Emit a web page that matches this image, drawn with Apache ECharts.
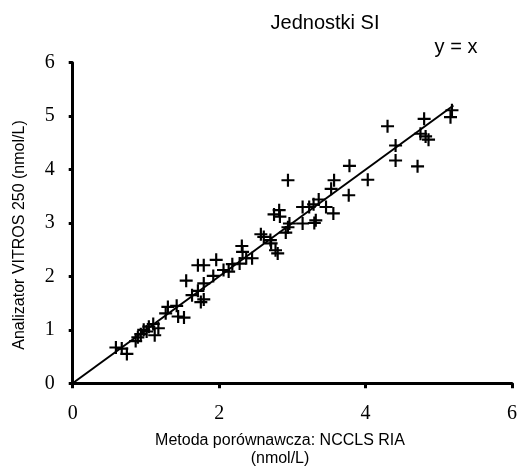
<!DOCTYPE html>
<html>
<head>
<meta charset="utf-8">
<script src="https://cdn.jsdelivr.net/npm/echarts@6/dist/echarts.min.js"></script>
<style>
  html, body { margin: 0; padding: 0; background: #fff; }
  #chart { width: 520px; height: 472px; }
</style>
</head>
<body>
<div id="chart"></div>
<script>
// porównanie metod: NCCLS RIA (x) vs VITROS 250 (y)
const ria = [
  0.59, 0.67, 0.74, 0.86, 0.89, 0.93, 0.97, 1.01, 1.04, 1.10,
  1.12, 1.17, 1.27, 1.30, 1.42, 1.44, 1.52, 1.55, 1.63, 1.71,
  1.75, 1.79, 1.79, 1.71, 1.79, 1.96, 1.92, 2.06, 2.13, 2.18,
  2.28, 2.31, 2.32, 2.37, 2.45, 2.57, 2.61, 2.70, 2.71, 2.77,
  2.80, 2.75, 2.82, 2.83, 2.94, 2.91, 2.94, 2.96, 3.14, 3.14,
  3.23, 3.29, 3.32, 3.36, 3.46, 3.53, 3.57, 3.56, 3.78, 3.77,
  4.03, 4.30, 4.41, 4.41, 4.71, 4.80, 4.75, 4.82, 4.86, 5.18,
  5.16, 3.30
];
const vitros = [
  0.67, 0.65, 0.55, 0.79, 0.86, 0.92, 1.00, 0.97, 1.06, 1.11,
  0.90, 1.03, 1.31, 1.43, 1.45, 1.25, 1.23, 1.92, 1.65, 1.73,
  1.52, 1.57, 1.87, 2.21, 2.21, 2.31, 2.01, 2.12, 2.09, 2.23,
  2.24, 2.57, 2.46, 2.34, 2.34, 2.79, 2.74, 2.68, 2.62, 2.49,
  2.43, 3.16, 3.24, 3.12, 3.80, 2.82, 2.92, 2.99, 3.30, 2.99,
  3.30, 3.35, 3.05, 3.44, 3.30, 3.64, 3.80, 3.18, 4.07, 3.52,
  3.81, 4.81, 4.45, 4.17, 4.06, 4.95, 4.67, 4.62, 4.56, 5.11,
  4.98, 3.00
];
const lineEnds = [0, 5.2];
const ticksX = [0, 2, 4, 6];

const chart = echarts.init(document.getElementById("chart"));

const plus = "path://M5,0h2v5h5v2h-5v5h-2v-5h-5v-2h5z";

const option = {
  backgroundColor: "#fff",
  animation: false,
  grid: { left: 72.7, right: 7, top: 62.7, bottom: 88.7 },
  xAxis: {
    type: "value",
    min: 0,
    max: 6,
    interval: 2,
    axisLine: { lineStyle: { color: "#000", width: 3 } },
    axisTick: { show: true, length: 5, lineStyle: { color: "#000", width: 3 } },
    axisLabel: {
      color: "#000",
      fontFamily: "Liberation Serif",
      fontSize: 20,
      margin: 20,
      formatter: (v) => (ticksX.indexOf(v) >= 0 ? String(v) : "")
    },
    splitLine: { show: false }
  },
  yAxis: {
    type: "value",
    min: 0,
    max: 6,
    interval: 1,
    axisLine: { show: true, lineStyle: { color: "#000", width: 3 } },
    axisTick: { show: true, length: 4, lineStyle: { color: "#000", width: 3 } },
    axisLabel: {
      color: "#000",
      fontFamily: "Liberation Serif",
      fontSize: 20,
      margin: 18
    },
    splitLine: { show: false }
  },
  graphic: [
    {
      type: "text", x: 325, y: 23,
      style: { text: "Jednostki SI", fill: "#000", font: "20px 'Liberation Sans'", align: "center", verticalAlign: "middle" }
    },
    {
      type: "text", x: 456, y: 47,
      style: { text: "y = x", fill: "#000", font: "20px 'Liberation Sans'", align: "center", verticalAlign: "middle" }
    },
    {
      type: "text", x: 280, y: 441,
      style: { text: "Metoda porównawcza: NCCLS RIA", fill: "#000", font: "16px 'Liberation Sans'", align: "center", verticalAlign: "middle" }
    },
    {
      type: "text", x: 280, y: 459,
      style: { text: "(nmol/L)", fill: "#000", font: "16px 'Liberation Sans'", align: "center", verticalAlign: "middle" }
    },
    {
      type: "text", x: 20, y: 235, rotation: Math.PI / 2,
      style: { text: "Analizator VITROS 250 (nmol/L)", fill: "#000", font: "16px 'Liberation Sans'", align: "center", verticalAlign: "middle" }
    }
  ],
  series: [
    {
      type: "line",
      data: lineEnds.map((v) => [v, v]),
      symbol: "none",
      lineStyle: { color: "#000", width: 2 },
      z: 2
    },
    {
      type: "scatter",
      data: ria.map((x, i) => [x, vitros[i]]),
      symbol: plus,
      symbolSize: 13,
      itemStyle: { color: "#000", opacity: 1 },
      z: 3
    }
  ]
};

chart.setOption(option);
</script>
</body>
</html>
